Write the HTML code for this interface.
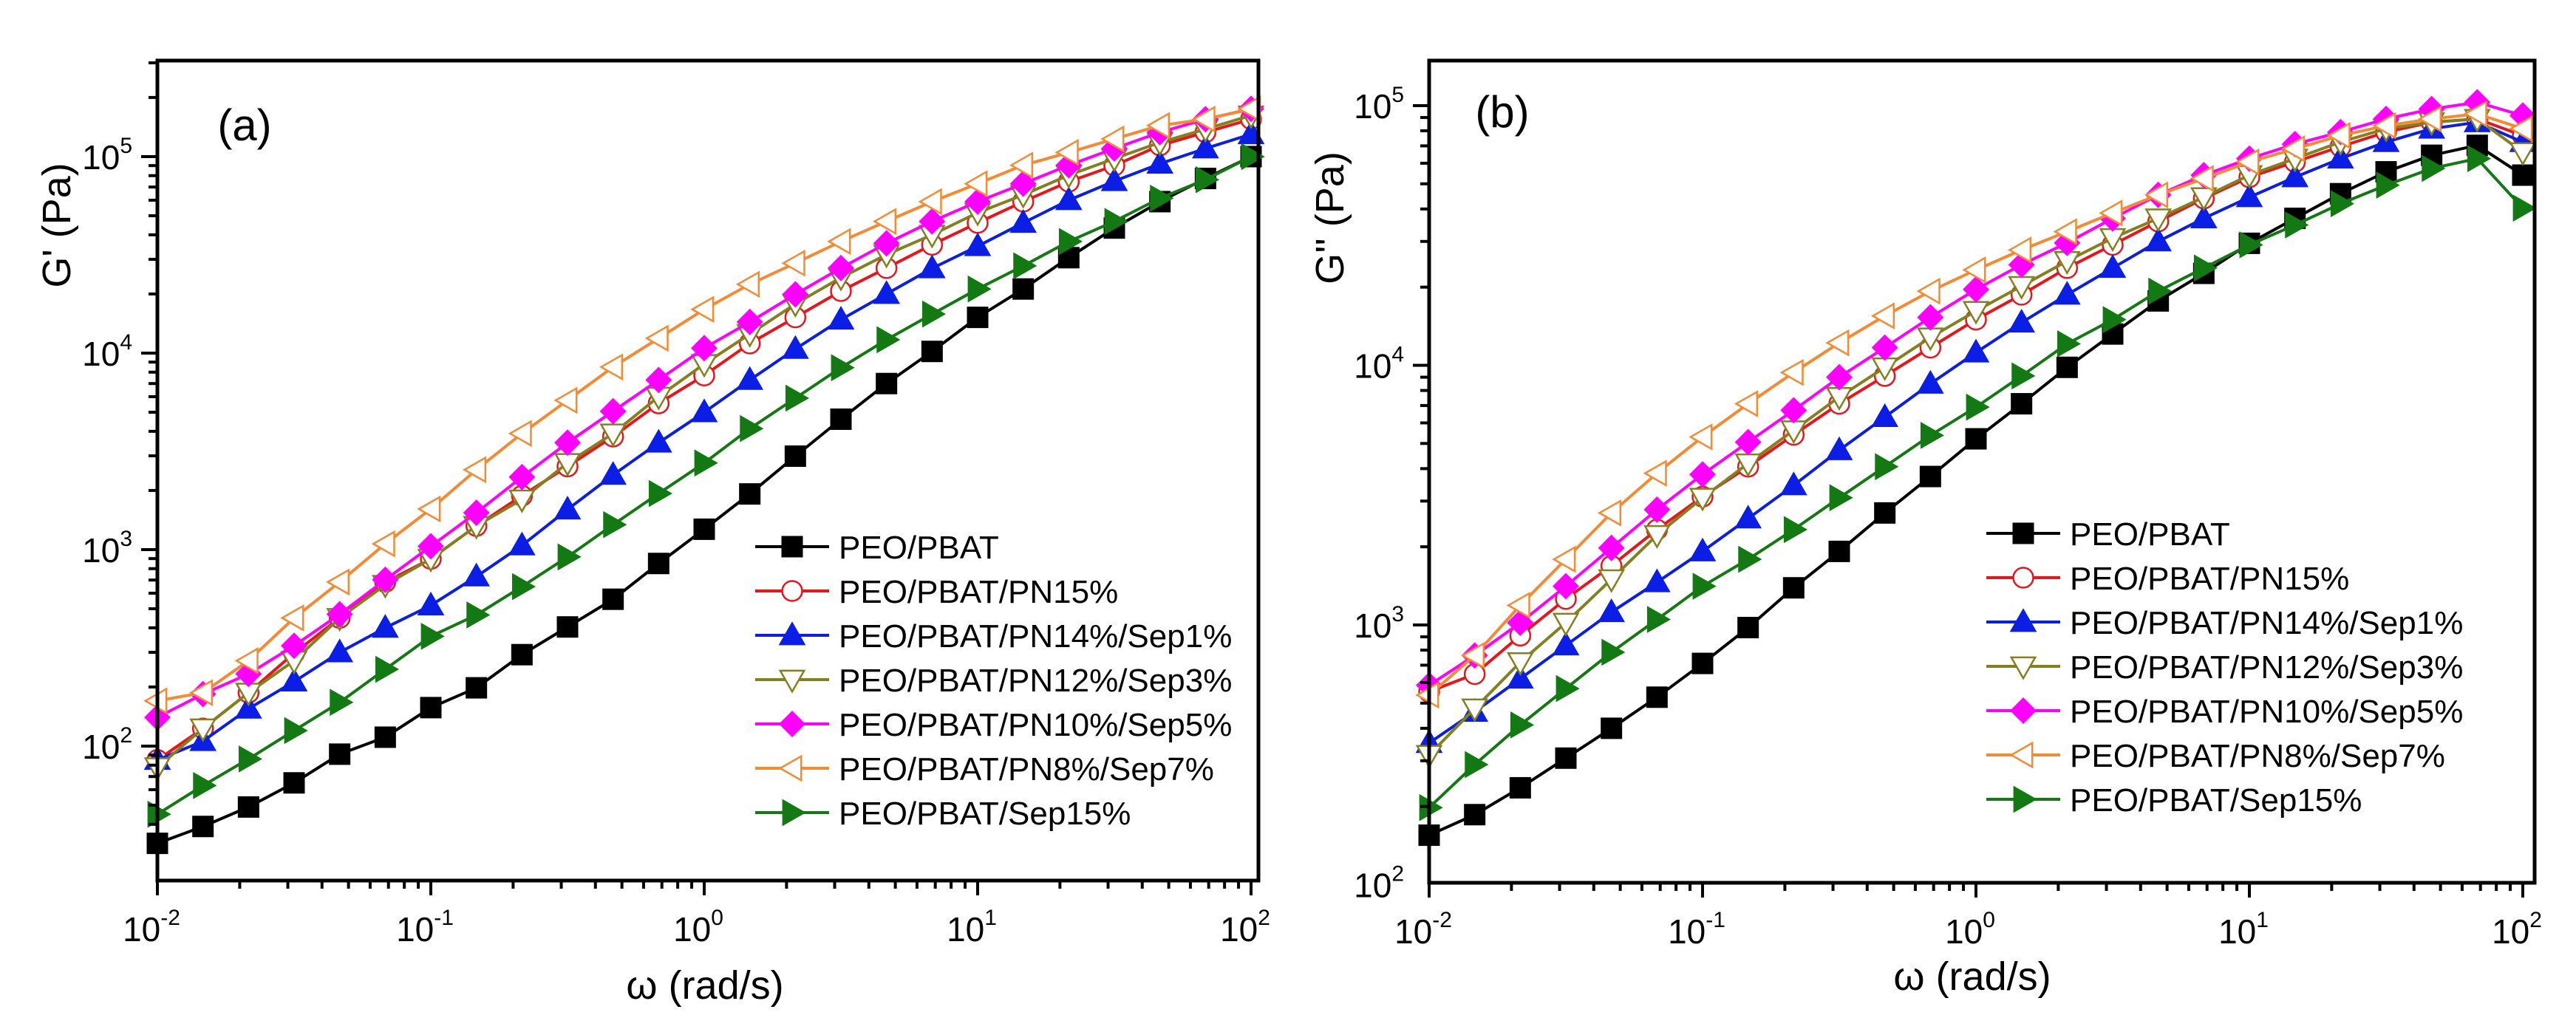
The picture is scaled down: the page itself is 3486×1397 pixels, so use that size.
<!DOCTYPE html>
<html><head><meta charset="utf-8">
<style>
html,body{margin:0;padding:0;background:#fff;}
svg{display:block;font-family:"Liberation Sans",Arial,sans-serif;}
</style></head>
<body>
<svg id="fig" width="3486" height="1397" viewBox="0 0 3486 1397" xmlns="http://www.w3.org/2000/svg"></svg>
<script>
// ---- shared data ----
const omega = Array.from({length:25},(_,i)=>0.01*Math.pow(10,i/6)); // measurement grid, 5 steps per decade
const seriesNames = ["PEO/PBAT","PEO/PBAT/PN15%","PEO/PBAT/PN14%/Sep1%","PEO/PBAT/PN12%/Sep3%","PEO/PBAT/PN10%/Sep5%","PEO/PBAT/PN8%/Sep7%","PEO/PBAT/Sep15%"];
const xTickExps = [-2,-1,0,1,2];
// ---- panel (a) G' ----
const gA_black  = [32,39,49,65,91,111,157,198,292,404,559,850,1270,1920,2990,4610,7000,10200,15200,21200,30600,43300,59000,77400,100000];
const gA_red    = [85,123,187,297,449,684,897,1320,1880,2650,3760,5550,7700,11200,15200,20700,27100,35600,46000,59000,74500,90000,114000,133000,155000];
const gA_blue   = [85,106,155,213,300,400,520,730,1050,1600,2400,3500,5000,7300,10500,14800,20000,27000,35000,46000,60000,75000,92000,110000,130000];
const gA_olive  = [78,123,187,272,449,661,897,1320,1800,2760,3900,6000,8800,12500,17800,24200,31700,40000,51800,63800,80500,97700,118000,138000,162000];
const gA_magenta= [140,184,233,324,469,702,1040,1540,2340,3500,5060,7300,10600,14400,19900,27100,36200,46800,59000,72800,90400,110000,133000,155000,175000];
const gA_orange = [170,187,272,449,684,1070,1610,2550,3900,5750,8500,11900,16700,22400,28700,37000,46800,59000,72800,90400,105000,123000,144000,155000,175000];
const gA_green  = [45,63,86,120,167,246,362,465,648,918,1340,1930,2760,4130,5900,8430,11700,15800,21200,27800,37000,46800,61400,76300,100000];
const yTickExpsA = [2,3,4,5];
// ---- panel (b) G'' ----
const gB_black  = [155,186,236,307,400,527,711,977,1390,1920,2700,3730,5210,7110,9820,13200,17700,22600,29500,36800,45800,55600,64400,70300,54000];
const gB_red    = [553,647,910,1260,1690,2330,3120,4070,5400,7110,9100,11700,15000,18700,23700,29100,35800,43900,53000,60700,69500,79100,86300,88900,76700];
const gB_blue   = [351,463,621,834,1120,1460,1920,2570,3450,4710,6320,8490,11200,14600,18700,23700,30000,36800,44400,53000,62500,72400,81500,86300,72400];
const gB_olive  = [316,477,719,1020,1500,2220,3090,4190,5620,7550,9820,12800,16200,20200,25200,30900,36800,44400,54000,62500,72400,81500,86300,88900,66200];
const gB_magenta= [586,763,1020,1410,1980,2780,3800,5060,6710,9000,11700,15300,19600,24400,29600,36800,45300,54000,62500,71100,79100,88900,97000,103000,91600];
const gB_orange = [537,763,1190,1790,2700,3840,5300,7110,9380,12200,15500,19300,23300,27800,32700,38600,45300,52400,60700,68200,76700,83700,88900,93000,81500];
const gB_green  = [198,290,412,569,785,1050,1410,1790,2330,3090,4070,5370,6900,9100,12100,15000,19300,23700,29100,34700,41900,49400,57300,62500,40300];
const yTickExpsB = [2,3,4,5];

const styles = [
 {c:"#000000",m:"square",fill:true},
 {c:"#e8151b",m:"circle",fill:false},
 {c:"#0a1ee6",m:"tri-up",fill:true},
 {c:"#85801e",m:"tri-down",fill:false},
 {c:"#ff00ff",m:"diamond",fill:true},
 {c:"#f58a30",m:"tri-left",fill:false},
 {c:"#137a13",m:"tri-right",fill:true}
];
const NS="http://www.w3.org/2000/svg";
const svg=document.getElementById('fig');
function mk(tag,attrs,parent){const e=document.createElementNS(NS,tag);for(const k in attrs)e.setAttribute(k,attrs[k]);(parent||svg).appendChild(e);return e;}

function marker(g,type,x,y,s,st){
  let e;
  const f=st.fill?st.c:"#fff";
  if(type==="square") e=mk('rect',{x:x-s/2,y:y-s/2,width:s,height:s,fill:f,stroke:st.c,'stroke-width':2},g);
  else if(type==="circle") e=mk('circle',{cx:x,cy:y,r:s/2,fill:f,stroke:st.c,'stroke-width':2.5},g);
  else {
    const h=s*0.6;let pts;
    if(type==="tri-up") pts=[[x,y-h],[x-h,y+h*0.75],[x+h,y+h*0.75]];
    if(type==="tri-down") pts=[[x,y+h],[x-h,y-h*0.75],[x+h,y-h*0.75]];
    if(type==="tri-left") pts=[[x-h,y],[x+h*0.75,y-h],[x+h*0.75,y+h]];
    if(type==="tri-right") pts=[[x+h,y],[x-h*0.75,y-h],[x-h*0.75,y+h]];
    if(type==="diamond") pts=[[x,y-h],[x+h,y],[x,y+h],[x-h,y]];
    e=mk('polygon',{points:pts.map(p=>p.join(',')).join(' '),fill:f,stroke:st.c,'stroke-width':2.5},g);
  }
  return e;
}

function panel(cfg){
  const g=mk('g',{});
  
  
  const xs=v=>cfg.x0+(Math.log10(v)+2)*cfg.xdec;
  const ys=v=>cfg.yRef-(Math.log10(v)-5)*cfg.ydec;
  cfg.data.forEach((arr,si)=>{
    const st=styles[si];
    const sg=mk('g',{},g);
    
    
    const d=arr.map((v,i)=>(i?'L':'M')+xs(omega[i]).toFixed(1)+','+ys(v).toFixed(1)).join('');
    const p=mk('path',{d:d,fill:'none',stroke:st.c,'stroke-width':4},sg);
    
    
    arr.forEach((v,i)=>{
      const m=marker(sg,st.m,xs(omega[i]),ys(v),27,st);
      
      
    });
  });
  const fr=mk('rect',{x:cfg.left,y:cfg.top,width:cfg.right-cfg.left,height:cfg.bottom-cfg.top,fill:'none',stroke:'#000','stroke-width':5},g);
  
  
  const yMin=Math.floor(5-(cfg.bottom-cfg.yRef)/cfg.ydec);
  for(let e=yMin;e<=6;e++){
    for(let k=1;k<10;k++){
      const y=ys(k*Math.pow(10,e));
      if(y<cfg.top-1||y>cfg.bottom+1)continue;
      const t=mk('line',{x1:cfg.left,x2:cfg.left-(k===1?22:12),y1:y,y2:y,stroke:'#000','stroke-width':4},g);
      
      
    }
  }
  cfg.yTicks.forEach(e=>{
    const t=mk('text',{x:cfg.left-34,y:ys(Math.pow(10,e))+17,'text-anchor':'end','font-size':46,fill:'#000'},g);
    
    
    t.innerHTML='10<tspan dy="-22" font-size="30">'+e+'</tspan>';
  });
  for(let e=-2;e<=2;e++){
    for(let k=1;k<10;k++){
      const x=xs(k*Math.pow(10,e));
      if(x>cfg.right+1)continue;
      const t=mk('line',{x1:x,x2:x,y1:cfg.bottom,y2:cfg.bottom+(k===1?20:11),stroke:'#000','stroke-width':4},g);
      
      
    }
  }
  xTickExps.forEach(e=>{
    const t=mk('text',{x:xs(Math.pow(10,e))-8,y:cfg.bottom+82,'text-anchor':'middle','font-size':46,fill:'#000'},g);
    
    
    t.innerHTML='10<tspan dy="-22" font-size="30">'+e+'</tspan>';
  });
  const xt=mk('text',{x:cfg.xTitleX,y:cfg.xTitleY,'text-anchor':'middle','font-size':54,fill:'#000'},g);
  
  
  xt.textContent='ω (rad/s)';
  const yt=mk('text',{x:0,y:0,'text-anchor':'middle','font-size':54,fill:'#000',transform:'translate('+cfg.yTitleX+','+cfg.yTitleY+') rotate(-90)'},g);
  
  
  yt.textContent=cfg.yTitle;
  const pl=mk('text',{x:cfg.labX,y:cfg.labY,'text-anchor':'middle','font-size':60,fill:'#000'},g);
  
  
  pl.textContent=cfg.label;
  const lg=mk('g',{},g);
  
  
  seriesNames.forEach((n,i)=>{
    const st=styles[i];const y=cfg.legY+i*60;
    const eg=mk('g',{},lg);
    
    
    mk('line',{x1:cfg.legX,x2:cfg.legX+100,y1:y,y2:y,stroke:st.c,'stroke-width':4},eg);
    marker(eg,st.m,cfg.legX+50,y,27,st);
    const t=mk('text',{x:cfg.legX+113,y:y+16,'font-size':44,fill:'#000'},eg);
    t.textContent=n;
  });
}

panel({name:'panel-a-storage-modulus',x0:213,xdec:370,yRef:212,ydec:266,left:213,right:1703,top:82,bottom:1192,
  data:[gA_black,gA_red,gA_blue,gA_olive,gA_magenta,gA_orange,gA_green],yTicks:yTickExpsA,
  xTitleX:954,xTitleY:1352,yTitleX:95,yTitleY:305,yTitle:"G' (Pa)",label:'(a)',labX:331,labY:190,legX:1022,legY:740});
panel({name:'panel-b-loss-modulus',x0:1934,xdec:370,yRef:143,ydec:351.5,left:1934,right:3430,top:82,bottom:1195,
  data:[gB_black,gB_red,gB_blue,gB_olive,gB_magenta,gB_orange,gB_green],yTicks:yTickExpsB,
  xTitleX:2669,xTitleY:1340,yTitleX:1818,yTitleY:295,yTitle:"G'' (Pa)",label:'(b)',labX:2033,labY:172,legX:2688,legY:722});
</script>
</body></html>
